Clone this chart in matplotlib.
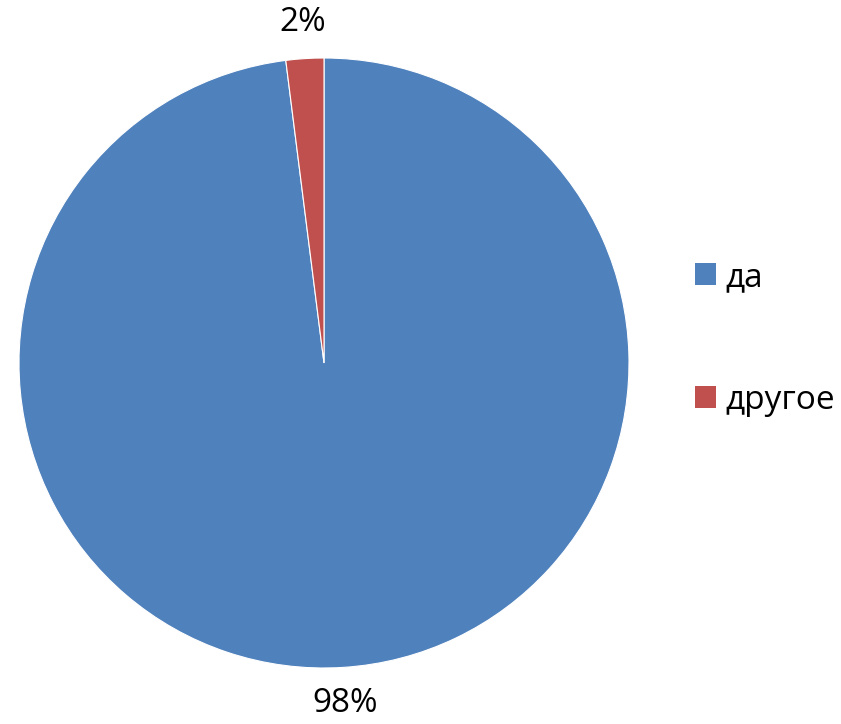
import matplotlib
matplotlib.use("Agg")
import matplotlib.pyplot as plt
from matplotlib.patches import Patch

categories = ["да", "другое"]
values = [98, 2]
colors = ["#4F81BD", "#C0504D"]

plt.rcParams['font.family'] = ['Open Sans', 'DejaVu Sans']

W, H = 841, 724
fig = plt.figure(figsize=(W / 100, H / 100), dpi=100)
cx, cy, r = 324, 363, 305
ax = fig.add_axes([(cx - r) / W, (H - cy - r) / H, 2 * r / W, 2 * r / H])

wedges, texts, autotexts = ax.pie(
    values, colors=colors, startangle=90, counterclock=False,
    autopct=lambda p: f"{p:.0f}%", pctdistance=1.12,
    wedgeprops=dict(linewidth=0.8, edgecolor="white"),
    textprops=dict(fontsize=24, color="black"))
ax.set_xlim(-1, 1)
ax.set_ylim(-1, 1)
ax.axis("off")

handles = [Patch(facecolor=c, edgecolor="none") for c in colors]
leg = fig.legend(handles, categories, loc="center left",
                 bbox_to_anchor=(695 / W, 1 - 339 / H), frameon=False,
                 fontsize=24, handlelength=0.63, handleheight=0.63,
                 handletextpad=0.27, labelspacing=2.7,
                 borderaxespad=0, borderpad=0)

fig.savefig("out.png", dpi=100)
